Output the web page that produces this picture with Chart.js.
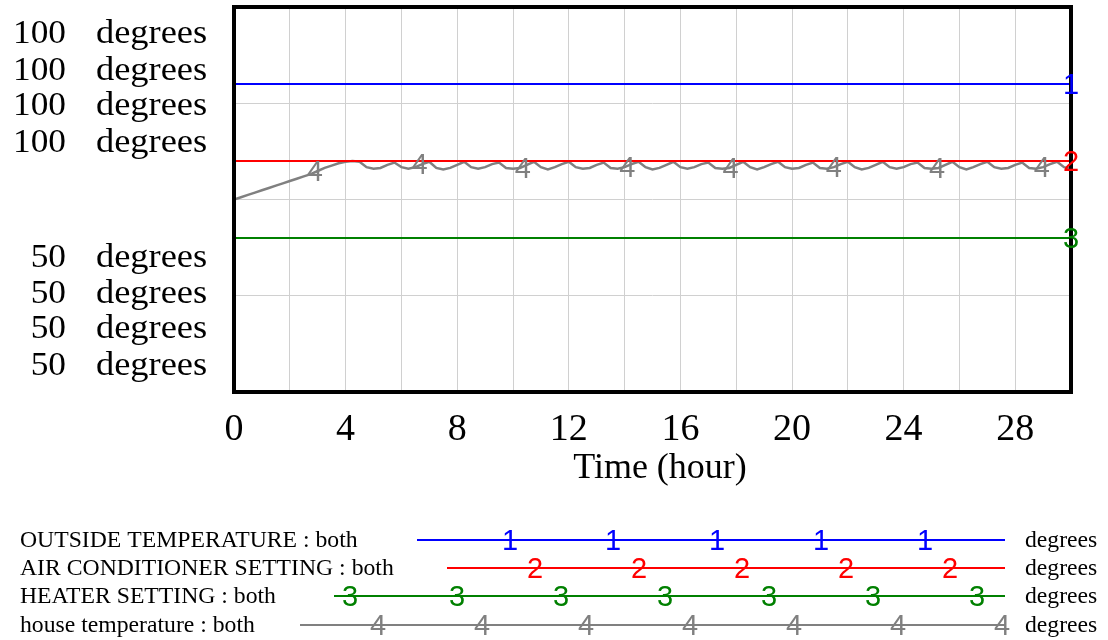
<!DOCTYPE html>
<html>
<head>
<meta charset="utf-8">
<script src="https://cdn.jsdelivr.net/npm/chart.js@4.4.1/dist/chart.umd.min.js"></script>
<style>
  html, body { margin: 0; padding: 0; background: #fff; }
  #wrap { width: 1108px; height: 640px; }
</style>
</head>
<body>
<div id="wrap"><canvas id="chart" width="1108" height="640"></canvas></div>
<script>
// ---- data ----
const timeStep = 0.25; // hours between saved points
const houseTemp = [
  75.0, 75.3, 75.6, 75.9, 76.2, 76.5, 76.8, 77.1, 77.4, 77.7,
  78.0, 78.3, 78.7, 79.1, 79.4, 79.7, 79.9, 80.0, 79.9,
  79.2, 79.0, 79.1, 79.5, 79.8,
  79.2, 79.0, 79.2, 79.6, 79.9,
  79.1, 78.9, 79.1, 79.5, 79.9,
  79.2, 79.0, 79.2, 79.6, 79.8,
  79.1, 79.0, 79.1, 79.5, 79.9,
  79.2, 78.9, 79.2, 79.6, 79.9,
  79.2, 79.0, 79.1, 79.5, 79.8,
  79.1, 79.0, 79.2, 79.6, 79.9,
  79.2, 78.9, 79.1, 79.5, 79.9,
  79.2, 79.0, 79.2, 79.6, 79.8,
  79.1, 79.0, 79.1, 79.5, 79.9,
  79.2, 78.9, 79.2, 79.6, 79.9,
  79.2, 79.0, 79.1, 79.5, 79.8,
  79.1, 79.0, 79.2, 79.6, 79.9,
  79.2, 78.9, 79.1, 79.5, 79.9,
  79.2, 79.0, 79.2, 79.6, 79.8,
  79.1, 79.0, 79.1, 79.5, 79.9,
  79.2, 78.9, 79.2, 79.6, 79.9,
  79.2, 79.0, 79.1, 79.5, 79.8,
  79.1, 79.0, 79.2, 79.6, 79.9,
  79.2, 79.0
];
const lineEnds = [0, 30];
const outsideTemp = [90, 90];
const acSetting = [80, 80];
const heaterSetting = [70, 70];
const houseMarkerHours = [2.9, 6.65, 10.35, 14.1, 17.8, 21.5, 25.2, 28.95];
const xTickLabels = [0, 4, 8, 12, 16, 20, 24, 28];
const yTopLabel = '100';
const yBottomLabel = '50';
const unitLabel = 'degrees';
const seriesNames = ['OUTSIDE TEMPERATURE : both', 'AIR CONDITIONER SETTING : both', 'HEATER SETTING : both', 'house temperature : both'];
const seriesColors = ['#0000ff', '#ff0000', '#008000', '#808080'];

const SERIF = '"Liberation Serif", "Times New Roman", serif';
const SANS = '"Liberation Sans", Arial, sans-serif';

// times text, with a sideways scale factor to match the export
function wideText(ctx, text, x, y, size, sx, align) {
  ctx.save();
  ctx.font = size + 'px ' + SERIF;
  ctx.textBaseline = 'alphabetic';
  ctx.textAlign = 'left';
  const w = ctx.measureText(text).width * sx;
  let left = x;
  if (align === 'right') left = x - w;
  else if (align === 'center') left = x - w / 2;
  ctx.translate(left, y);
  ctx.scale(sx, 1);
  ctx.fillStyle = '#000';
  ctx.fillText(text, 0, 0);
  ctx.restore();
}

function marker(ctx, text, x, y, color) {
  ctx.save();
  ctx.font = '29px ' + SANS;
  ctx.textAlign = 'center';
  ctx.textBaseline = 'middle';
  ctx.fillStyle = color;
  ctx.fillText(text, x, y + 2);
  ctx.restore();
}

const decorPlugin = {
  id: 'decor',
  afterDatasetsDraw(chart) {
    const ctx = chart.ctx;
    const a = chart.chartArea;
    const xs = chart.scales.x, ys = chart.scales.y;

    // frame
    ctx.save();
    ctx.strokeStyle = '#000';
    ctx.lineWidth = 4;
    ctx.strokeRect(a.left, a.top, a.right - a.left, a.bottom - a.top);
    ctx.restore();

    // series numbers on the lines
    marker(ctx, '1', xs.getPixelForValue(lineEnds[1]), ys.getPixelForValue(outsideTemp[1]), seriesColors[0]);
    marker(ctx, '2', xs.getPixelForValue(lineEnds[1]), ys.getPixelForValue(acSetting[1]), seriesColors[1]);
    marker(ctx, '3', xs.getPixelForValue(lineEnds[1]), ys.getPixelForValue(heaterSetting[1]), seriesColors[2]);
    houseMarkerHours.forEach(h => {
      const i = Math.round(h / timeStep);
      marker(ctx, '4', xs.getPixelForValue(h), ys.getPixelForValue(houseTemp[i]), seriesColors[3]);
    });

    // x tick labels + title
    xTickLabels.forEach(v => {
      wideText(ctx, String(v), xs.getPixelForValue(v), 440, 38, 1.0, 'center');
    });
    wideText(ctx, 'Time (hour)', 660, 478, 36, 1.0, 'center');

    // stacked y labels
    [43, 80, 115, 152].forEach(b => {
      wideText(ctx, yTopLabel, 66, b, 34, 1.04, 'right');
      wideText(ctx, unitLabel, 96, b, 34, 1.07, 'left');
    });
    [267, 303, 338, 375].forEach(b => {
      wideText(ctx, yBottomLabel, 66, b, 34, 1.04, 'right');
      wideText(ctx, unitLabel, 96, b, 34, 1.07, 'left');
    });
  },
  afterDraw(chart) {
    const ctx = chart.ctx;
    const rows = [540, 568, 596, 625];
    const starts = [417, 447, 334, 300];
    const marks = [
      [510, 613, 717, 821, 925],
      [535, 639, 742, 846, 950],
      [350, 457, 561, 665, 769, 873, 977],
      [378, 482, 586, 690, 794, 898, 1002]
    ];
    seriesNames.forEach((name, k) => {
      const y = rows[k];
      wideText(ctx, name, 20, y + 7, 23, 1.03, 'left');
      ctx.save();
      ctx.strokeStyle = seriesColors[k];
      ctx.lineWidth = 2;
      ctx.beginPath();
      ctx.moveTo(starts[k], y);
      ctx.lineTo(1005, y);
      ctx.stroke();
      ctx.restore();
      marks[k].forEach(mx => marker(ctx, String(k + 1), mx, y, seriesColors[k]));
      wideText(ctx, unitLabel, 1025, y + 7, 23, 1.03, 'left');
    });
  }
};

const pts = (xsArr, ysArr) => ysArr.map((v, i) => ({ x: xsArr[i], y: v }));

new Chart(document.getElementById('chart'), {
  type: 'line',
  data: {
    datasets: [
      { label: seriesNames[0], data: pts(lineEnds, outsideTemp), borderColor: seriesColors[0] },
      { label: seriesNames[1], data: pts(lineEnds, acSetting), borderColor: seriesColors[1] },
      { label: seriesNames[2], data: pts(lineEnds, heaterSetting), borderColor: seriesColors[2] },
      { label: seriesNames[3], data: houseTemp.map((v, i) => ({ x: i * timeStep, y: v })), borderColor: seriesColors[3], borderWidth: 2.5 }
    ]
  },
  options: {
    responsive: false,
    animation: false,
    layout: { padding: { left: 234, right: 37, top: 7, bottom: 248 } },
    elements: {
      line: { borderWidth: 2, tension: 0 },
      point: { radius: 0 }
    },
    plugins: { legend: { display: false }, tooltip: { enabled: false } },
    scales: {
      x: {
        type: 'linear', min: 0, max: 30,
        ticks: { stepSize: 2, display: false },
        grid: { color: '#d0d0d0', lineWidth: 1, drawTicks: false },
        border: { display: false },
        afterFit: s => { s.height = 0; }
      },
      y: {
        min: 50, max: 100,
        ticks: { stepSize: 12.5, display: false },
        grid: { color: '#d0d0d0', lineWidth: 1, drawTicks: false },
        border: { display: false },
        afterFit: s => { s.width = 0; }
      }
    }
  },
  plugins: [decorPlugin]
});
</script>
</body>
</html>
